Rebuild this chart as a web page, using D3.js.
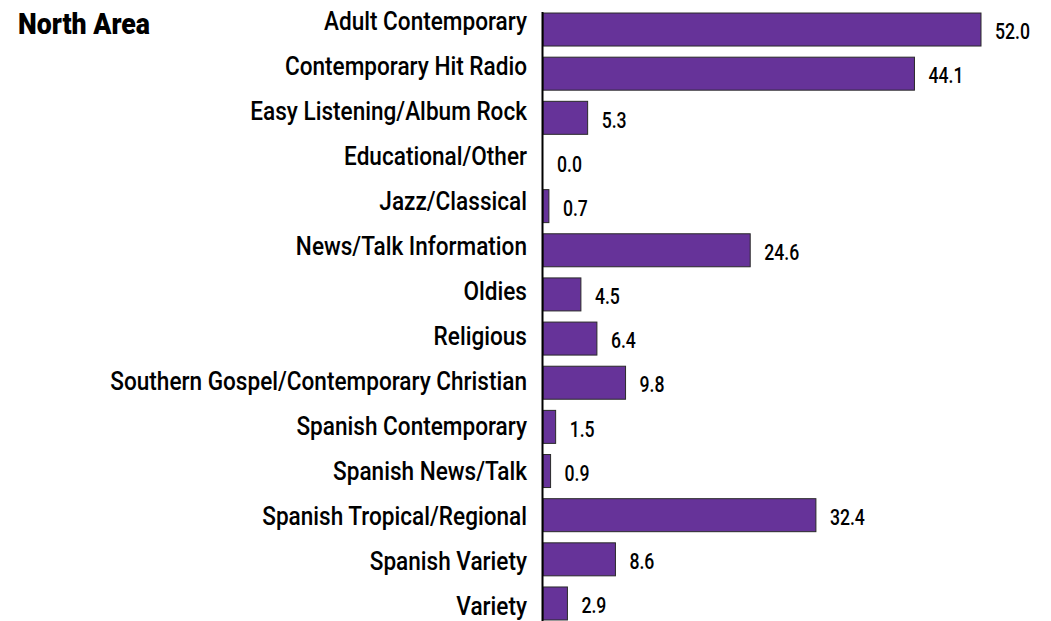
<!DOCTYPE html>
<html>
<head>
<meta charset="utf-8">
<script src="https://cdn.jsdelivr.net/npm/d3@7"></script>
<style>
  html, body { margin: 0; padding: 0; background: #fff; }
  svg { display: block; }
  text { font-family: Roboto, "Liberation Sans", sans-serif; }
</style>
</head>
<body>
<svg id="chart" width="1051" height="621"></svg>
<script>
const categories = [
  "Adult Contemporary",
  "Contemporary Hit Radio",
  "Easy Listening/Album Rock",
  "Educational/Other",
  "Jazz/Classical",
  "News/Talk Information",
  "Oldies",
  "Religious",
  "Southern Gospel/Contemporary Christian",
  "Spanish Contemporary",
  "Spanish News/Talk",
  "Spanish Tropical/Regional",
  "Spanish Variety",
  "Variety"
];
const values = [52.0, 44.1, 5.3, 0.0, 0.7, 24.6, 4.5, 6.4, 9.8, 1.5, 0.9, 32.4, 8.6, 2.9];
const title = "North Area";

const svg = d3.select("#chart");
const W = 1051, H = 621;
const x0 = 543;

const x = d3.scaleLinear().domain([0, 52]).range([x0, 981]);
const y = d3.scaleBand().domain(categories)
  .range([7.5, 625.5]).paddingInner(0.2525).paddingOuter(0.125);
// category labels sit on their own slightly wider grid
const yLab = d3.scalePoint().domain(categories).range([21, 606]);

const data = categories.map((c, i) => ({ c, v: values[i] }));

// condensed look: draw with a regular face, then squeeze horizontally
function squeeze(sel, targetWidth) {
  const w = d3.max(sel.nodes(), n => n.getComputedTextLength());
  return targetWidth / w;
}

// title
const tg = svg.append("g");
const tt = tg.append("text")
  .attr("font-size", 29).attr("font-weight", 900)
  .attr("fill", "#000")
  .text(title);
tg.attr("transform", `translate(18,34) scale(${squeeze(tt, 132)},1)`);

// bars
svg.selectAll("rect.bar").data(data).join("rect")
  .attr("class", "bar")
  .attr("x", x0)
  .attr("y", d => y(d.c))
  .attr("width", d => x(d.v) - x0)
  .attr("height", y.bandwidth())
  .attr("fill", "#663399")
  .attr("stroke", "#2a2a2a")
  .attr("stroke-width", 1);

// vertical baseline
svg.append("line")
  .attr("x1", x0 - 0.5).attr("x2", x0 - 0.5)
  .attr("y1", 12).attr("y2", H)
  .attr("stroke", "#000").attr("stroke-width", 2);

// category labels
const cg = svg.selectAll("g.cat").data(data).join("g").attr("class", "cat");
const ct = cg.append("text")
  .attr("text-anchor", "end")
  .attr("dy", "0.35em")
  .attr("font-size", 25)
  .attr("font-weight", 500)
  .attr("fill", "#000")
  .text(d => d.c);
const sx = squeeze(ct, 417);
cg.attr("transform", d => `translate(527,${yLab(d.c)}) scale(${sx},1)`);

// value labels
const vg = svg.selectAll("g.val").data(data).join("g").attr("class", "val");
const vt = vg.append("text")
  .attr("dy", "0.35em")
  .attr("font-size", 22)
  .attr("font-weight", 500)
  .attr("fill", "#000")
  .text(d => d3.format(".1f")(d.v));
const sv = squeeze(vt, 35);
vg.attr("transform", d => `translate(${x(d.v) + 14},${y(d.c) + y.bandwidth() / 2 + 2}) scale(${sv},1)`);
</script>
</body>
</html>
